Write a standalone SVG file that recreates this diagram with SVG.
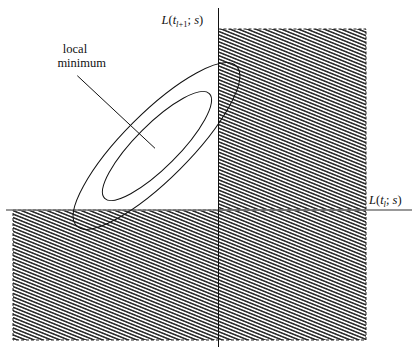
<svg xmlns="http://www.w3.org/2000/svg" width="412" height="347" viewBox="0 0 412 347">
  <defs>
    <pattern id="hatch" patternUnits="userSpaceOnUse" width="12" height="3.2" patternTransform="rotate(22)">
      <line x1="0" y1="1.6" x2="12" y2="1.6" stroke="#000" stroke-width="1.3"/>
    </pattern>
  </defs>
  <style>
    .region { fill: url(#hatch); stroke: #222; stroke-width: 1; stroke-dasharray: 3 2; }
    .ell { fill: none; stroke: #111; stroke-width: 1; }
    .lbl { font-family: "Liberation Serif", "Times New Roman", serif; font-size: 12.5px; fill: #111; }
    .it { font-style: italic; }
  </style>
  <rect width="412" height="347" fill="#fff"/>
  <g id="hatched-regions">
    <rect id="region-top-right" class="region" x="218.5" y="29" width="147.5" height="181"/>
    <rect id="region-bottom" class="region" x="13" y="210" width="353" height="130"/>
  </g>
  <g id="axes">
    <line id="axis-x" x1="6" y1="210" x2="412" y2="210" stroke="#777" stroke-width="1.6"/>
    <line id="axis-y" x1="218.5" y1="8" x2="218.5" y2="347" stroke="#111" stroke-width="1"/>
  </g>
  <g id="contours">
    <ellipse id="outer-contour" class="ell" cx="156.5" cy="146" rx="113" ry="33" transform="rotate(-45 156.5 146)"/>
    <ellipse id="inner-contour" class="ell" cx="157" cy="146" rx="74" ry="21.5" transform="rotate(-45 157 146)"/>
  </g>
  <g id="connectors">
    <line x1="77.3" y1="75.7" x2="155" y2="148.3" stroke="#111" stroke-width="1"/>
  </g>
  <g id="label-local-minimum">
    <text class="lbl" font-family="Liberation Serif, serif" x="75" y="53" text-anchor="middle">local</text>
    <text class="lbl" font-family="Liberation Serif, serif" x="81.7" y="66.5" text-anchor="middle">minimum</text>
  </g>
  <g id="label-y-axis">
    <text class="lbl" font-family="Liberation Serif, serif" x="161.5" y="24"><tspan class="it">L</tspan>(<tspan class="it">t</tspan><tspan class="it" font-size="8.5" dy="2.5">l</tspan><tspan font-size="8.5">+1</tspan><tspan dy="-2.5">; </tspan><tspan class="it">s</tspan>)</text>
  </g>
  <g id="label-x-axis">
    <text class="lbl" font-family="Liberation Serif, serif" x="369" y="204"><tspan class="it">L</tspan>(<tspan class="it">t</tspan><tspan class="it" font-size="8.5" dy="2.5">l</tspan><tspan dy="-2.5">; </tspan><tspan class="it">s</tspan>)</text>
  </g>
</svg>
